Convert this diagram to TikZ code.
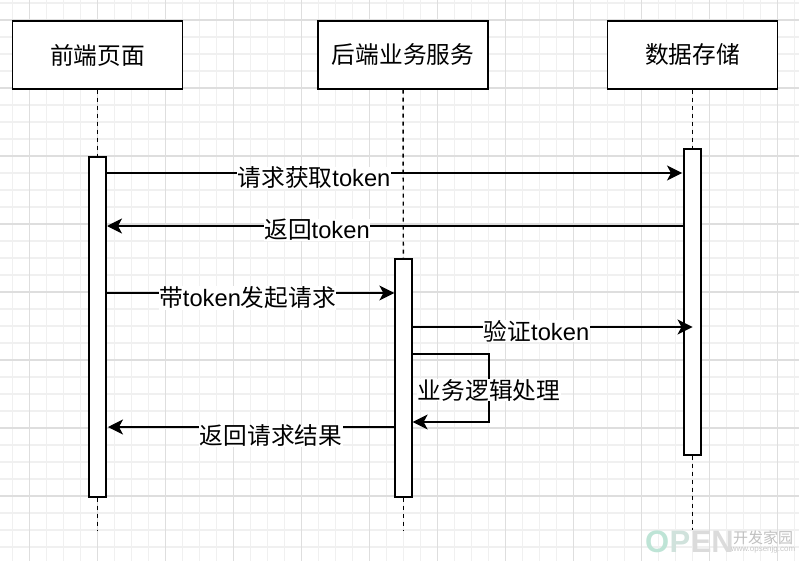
\documentclass[tikz,border=0pt]{standalone}
\usepackage{fontspec}
\setmainfont{Liberation Sans}
\newfontfamily\cjk{Noto Sans CJK SC}
\usetikzlibrary{arrows.meta}
\definecolor{markgreen}{RGB}{190,228,214}
\definecolor{markfade}{RGB}{208,226,220}
\tikzset{
  actorbox/.style={draw,line width=1.3pt,fill=white,minimum width=170pt,minimum height=68pt,inner sep=0pt,font=\fontsize{23.7}{26}\selectfont\cjk},
  lifebar/.style={draw,line width=1.3pt,fill=white,minimum width=17pt,inner sep=0pt},
  lifeline/.style={line width=1.4pt,dash pattern=on 4pt off 4pt},
  msg/.style={line width=1.3pt,-{Stealth[length=15pt,width=15pt,inset=4pt]}},
  msglabel/.style={fill=white,inner sep=0.5pt,font=\fontsize{23.7}{26}\selectfont},
  marktype/.style={inner sep=0pt,font=\fontsize{31}{31}\selectfont\bfseries},
}
\newcommand{\zh}[1]{{\cjk #1}}
\begin{document}
\begin{tikzpicture}[x=1pt,y=-1pt,line cap=butt,line join=miter]
  \useasboundingbox (0,0) rectangle (799,561);
  % grid
  \foreach \gx in {12.5,29.5,...,799} \draw[line width=1.2pt,black!6] (\gx,0) -- (\gx,561);
  \foreach \gy in {3,20,...,561} \draw[line width=1.2pt,black!6] (0,\gy) -- (799,\gy);
  \foreach \gx in {29.5,97.5,...,799} \draw[line width=1.2pt,black!13] (\gx,0) -- (\gx,561);
  \foreach \gy in {20,88,...,561} \draw[line width=1.2pt,black!13] (0,\gy) -- (799,\gy);

  % header boxes
  \node[actorbox] (front) at (97.5,55) {\raisebox{-1pt}{前端页面}};
  \node[actorbox] (back) at (403,55) {\raisebox{-1pt}{后端业务服务}};
  \node[actorbox] (store) at (692.5,55) {\raisebox{-1pt}{数据存储}};

  % activation bars
  \node[lifebar,minimum height=340pt] (frontbar) at (97.5,327) {};
  \node[lifebar,minimum height=238pt] (backbar) at (403.5,378) {};
  \node[lifebar,minimum height=306pt] (storebar) at (692.5,302) {};

  \coordinate (frontend) at (97.5,530);
  \coordinate (backend) at (403.5,530);
  \coordinate (storeend) at (692.5,530);
  \coordinate (loopa) at (489,354);
  \coordinate (loopb) at (489,422);

  % lifelines
  \draw[lifeline] (front) -- (frontbar);
  \draw[lifeline] (frontbar) -- (frontend);
  \draw[lifeline] (back) -- (backbar);
  \draw[lifeline] (backbar) -- (backend);
  \draw[lifeline] (store) -- (storebar);
  \draw[lifeline] (storebar) -- (storeend);

  % messages
  \draw[msg] (frontbar.east |- 0,173) -- (682,173);
  \draw[msg] (storebar.west |- 0,226) -- (107,226);
  \draw[msg] (frontbar.east |- 0,293) -- (backbar.west |- 0,293);
  \draw[msg] (backbar.east |- 0,327) -- (692.5,327);
  \draw[msg] (backbar.east |- loopa) -- (loopa) -- (loopb) -- (backbar.east |- loopb);
  \draw[msg] (backbar.west |- 0,427) -- (108,427);

  % labels
  \node[msglabel] (getlabel) at (314,178) {\zh{请求获取}token};
  \node[msglabel] (retlabel) at (317,230) {\zh{返回}token};
  \node[msglabel] (reqlabel) at (247.5,298) {\zh{带}token\zh{发起请求}};
  \node[msglabel] (chklabel) at (536.5,331) {\zh{验证}token};
  \node[msglabel] (biz) at (489,390) {\zh{业务逻辑处理}};
  \node[msglabel] (reslabel) at (271,436) {\zh{返回请求结果}};

  % site mark
  \node[marktype,text=markgreen,anchor=west] (markO) at (645,542) {O};
  \node[marktype,text=markfade,anchor=west] (markP) at (markO.east) {P};
  \node[marktype,text=black!14,anchor=west] (markEN) at (markP.east) {EN};
  \node[inner sep=0pt,text=black!25,font=\fontsize{15}{15}\selectfont\cjk] (marktext) at (763,538) {开发家园};
  \node[inner sep=0pt,text=black!22,font=\fontsize{8}{8}\selectfont] (markurl) at (763,549) {www.opsenjg.com};
\end{tikzpicture}
\end{document}
